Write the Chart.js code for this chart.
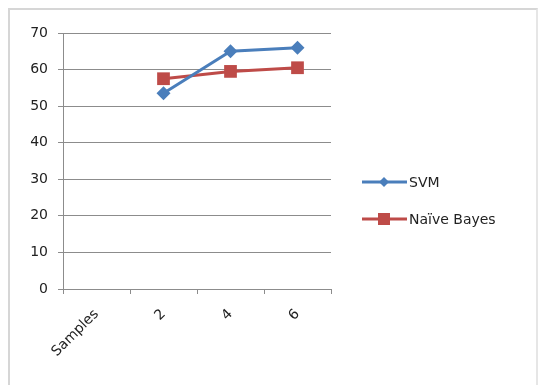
<!DOCTYPE html>
<html>
<head>
<meta charset="utf-8">
<script src="https://cdn.jsdelivr.net/npm/chart.js@4.4.0/dist/chart.umd.min.js"></script>
<style>
  html, body { margin: 0; padding: 0; background: #fff; overflow: hidden; }
  #frame { position: absolute; left: 8px; top: 8px; width: 530px; height: 400px;
           border: 2px solid #d6d6d6; border-right-color: #e6e6e6; box-sizing: border-box; }
  #wrap { position: absolute; left: 0; top: 0; width: 539px; height: 385px; }
</style>
</head>
<body>
<div id="frame"></div>
<div id="wrap"><canvas id="chart"></canvas></div>
<script>
// Chart data
const categories = ["Samples", "2", "4", "6"];
const svmValues = [null, 53.5, 65, 66];
const naiveBayesValues = [null, 57.5, 59.5, 60.5];
const seriesNames = ["SVM", "Naïve Bayes"];

const svmColor = "#4a7ebb";
const nbColor = "#be4b48";
const fontFamily = "'DejaVu Sans', Verdana, sans-serif";

// Excel-style legend: short line with the marker in the middle
const sideLegend = {
  id: "sideLegend",
  afterDraw(chart) {
    const ctx = chart.ctx;
    const items = [
      { y: 182, color: svmColor, shape: "diamond" },
      { y: 219, color: nbColor, shape: "square" },
    ];
    ctx.save();
    items.forEach((item, i) => {
      ctx.strokeStyle = item.color;
      ctx.lineWidth = 3;
      ctx.beginPath();
      ctx.moveTo(362, item.y);
      ctx.lineTo(407, item.y);
      ctx.stroke();
      ctx.fillStyle = item.color;
      ctx.beginPath();
      if (item.shape === "diamond") {
        ctx.moveTo(384, item.y - 5);
        ctx.lineTo(389, item.y);
        ctx.lineTo(384, item.y + 5);
        ctx.lineTo(379, item.y);
      } else {
        ctx.rect(378, item.y - 6, 12, 12);
      }
      ctx.closePath();
      ctx.fill();
      ctx.fillStyle = "#222";
      ctx.font = "14px " + fontFamily;
      ctx.textBaseline = "middle";
      ctx.fillText(seriesNames[i], 409, item.y + 1);
    });
    ctx.restore();
  },
};

const ctx = document.getElementById("chart").getContext("2d");
new Chart(ctx, {
  type: "line",
  data: {
    labels: categories,
    datasets: [
      {
        label: seriesNames[0],
        data: svmValues,
        borderColor: svmColor,
        backgroundColor: svmColor,
        borderWidth: 3,
        pointStyle: "rectRot",
        pointRadius: 7,
        pointBorderWidth: 0,
        tension: 0,
      },
      {
        label: seriesNames[1],
        data: naiveBayesValues,
        borderColor: nbColor,
        backgroundColor: nbColor,
        borderWidth: 3,
        pointStyle: "rect",
        pointRadius: 9,
        pointBorderWidth: 0,
        tension: 0,
      },
    ],
  },
  options: {
    responsive: true,
    maintainAspectRatio: false,
    animation: false,
    layout: { padding: { top: 33, right: 208, left: 0, bottom: 0 } },
    plugins: { legend: { display: false }, tooltip: { enabled: false } },
    scales: {
      x: {
        offset: true,
        afterFit(axis) { axis.height = 96; },
        border: { color: "#8c8c8c", width: 1 },
        grid: {
          offset: true,
          drawOnChartArea: false,
          drawTicks: true,
          tickLength: 5,
          color: "#8c8c8c",
        },
        ticks: {
          minRotation: 45,
          maxRotation: 45,
          color: "#222",
          padding: 12,
          font: { family: fontFamily, size: 14 },
        },
      },
      y: {
        min: 0,
        max: 70,
        afterFit(axis) { axis.width = 63; },
        border: { color: "#8c8c8c", width: 1 },
        grid: { color: "#8c8c8c", lineWidth: 1, tickLength: 5 },
        ticks: {
          stepSize: 10,
          color: "#222",
          padding: 10,
          font: { family: fontFamily, size: 14 },
        },
      },
    },
  },
  plugins: [sideLegend],
});
</script>
</body>
</html>
